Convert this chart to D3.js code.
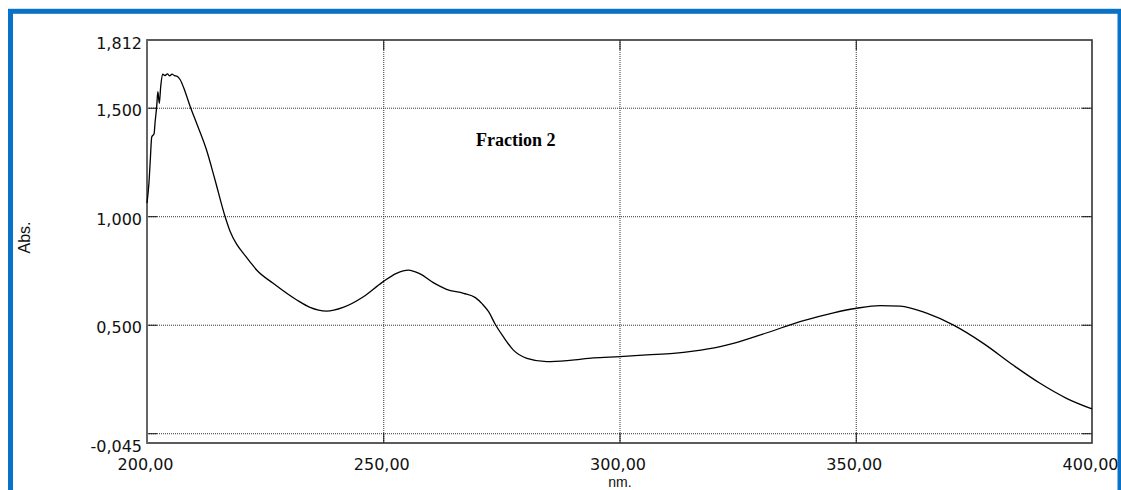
<!DOCTYPE html>
<html>
<head>
<meta charset="utf-8">
<script src="https://cdn.jsdelivr.net/npm/d3@7/dist/d3.min.js"></script>
<style>
  html, body { margin: 0; padding: 0; background: #ffffff; }
  svg { display: block; }
</style>
</head>
<body>
<script>
// UV absorption spectrum, wavelength (nm) vs absorbance
const wavelength = [
  200.0, 200.4, 200.7, 201.0, 201.5, 201.7, 202.05, 202.3, 202.6, 202.9,
  203.3, 203.8, 204.3, 204.8, 205.3, 205.8, 206.3, 207.0, 208.0, 209.1,
  210.5, 212.6, 214.4, 216.5, 217.6, 219.0, 220.4, 221.8, 223.2, 226.7,
  231.7, 234.5, 238.0, 241.5, 245.8, 249.7, 252.8, 255.3, 257.8, 260.6,
  263.4, 267.0, 269.5, 271.0, 272.3, 273.7, 275.4, 277.5, 280.4, 284.6,
  289.5, 294.5, 300.1, 305.8, 311.4, 315.6, 321.3, 324.1, 331.2, 338.2,
  345.3, 350.2, 355.1, 359.4, 365.0, 370.6, 377.0, 383.3, 389.0, 394.6,
  400.0
];
const absorbance = [
  1.060, 1.150, 1.260, 1.365, 1.380, 1.430, 1.505, 1.574, 1.520, 1.597,
  1.655, 1.648, 1.656, 1.647, 1.655, 1.648, 1.646, 1.630, 1.578, 1.508,
  1.428, 1.305, 1.167, 1.000, 0.930, 0.870, 0.829, 0.790, 0.752, 0.691,
  0.614, 0.580, 0.563, 0.580, 0.629, 0.694, 0.737, 0.752, 0.734, 0.694,
  0.663, 0.645, 0.625, 0.595, 0.560, 0.502, 0.445, 0.384, 0.345, 0.330,
  0.336, 0.347, 0.353, 0.361, 0.368, 0.378, 0.399, 0.414, 0.463, 0.514,
  0.555, 0.576, 0.588, 0.586, 0.553, 0.499, 0.414, 0.314, 0.230, 0.161,
  0.112
];

const yLabelValues = [1.812, 1.5, 1.0, 0.5, -0.045];
const yGridValues = [1.5, 1.0, 0.5, 0.0];
const xLabelValues = [200, 250, 300, 350, 400];
const xGridValues = [250, 300, 350];
const chartTitle = "Fraction 2";
const xTitle = "nm.";
const yTitle = "Abs.";

const W = 1121, H = 490;
const plot = { left: 147, top: 40, right: 1092, bottom: 443 };

const svg = d3.select("body").append("svg")
  .attr("width", W).attr("height", H);

// outer blue frame
svg.append("rect")
  .attr("x", 10.5).attr("y", 11.3)
  .attr("width", 1109.5).attr("height", 520)
  .attr("fill", "none")
  .attr("stroke", "#0a72c6")
  .attr("stroke-width", 5);

const x = d3.scaleLinear().domain([200, 400]).range([plot.left, plot.right]);
const y = d3.scaleLinear().domain([-0.045, 1.812]).range([plot.bottom, plot.top]);

const locale = d3.formatLocale({ decimal: ",", thousands: ".", grouping: [3], currency: ["", ""], minus: "-" });
const fmtY = locale.format(".3f");
const fmtX = locale.format(".2f");

const pw = plot.right - plot.left, ph = plot.bottom - plot.top;

// dotted grid lines
const gridY = svg.append("g")
  .attr("transform", `translate(${plot.left},0)`)
  .call(d3.axisRight(y).tickValues(yGridValues).tickSize(pw).tickFormat(""));
gridY.select(".domain").remove();
gridY.selectAll("line").attr("stroke", "#333").attr("stroke-dasharray", "1,1").attr("stroke-width", 1);

const gridX = svg.append("g")
  .attr("transform", `translate(0,${plot.top})`)
  .call(d3.axisBottom(x).tickValues(xGridValues).tickSize(ph).tickFormat(""));
gridX.select(".domain").remove();
gridX.selectAll("line").attr("stroke", "#333").attr("stroke-dasharray", "1,1").attr("stroke-width", 1);

// short inward tick marks on all four sides
function inwardTicks(axis, tx, ty) {
  const g = svg.append("g").attr("transform", `translate(${tx},${ty})`).call(axis);
  g.select(".domain").remove();
  g.selectAll("line").attr("stroke", "#111").attr("stroke-width", 1);
}
inwardTicks(d3.axisLeft(y).tickValues(yGridValues).tickSize(-10).tickFormat(""), plot.left, 0);
inwardTicks(d3.axisRight(y).tickValues(yGridValues).tickSize(-10).tickFormat(""), plot.right, 0);
inwardTicks(d3.axisBottom(x).tickValues(xGridValues).tickSize(-10).tickFormat(""), 0, plot.bottom);
inwardTicks(d3.axisTop(x).tickValues(xGridValues).tickSize(-10).tickFormat(""), 0, plot.top);

// tick labels
const yLab = svg.append("g")
  .attr("transform", `translate(${plot.left},0)`)
  .call(d3.axisLeft(y).tickValues(yLabelValues).tickSize(0).tickPadding(5).tickFormat(fmtY));
yLab.select(".domain").remove();
yLab.selectAll("text")
  .attr("font-family", "'DejaVu Sans', sans-serif")
  .attr("font-size", 16)
  .attr("fill", "#111")
  .attr("dy", "0.5em");

const xLab = svg.append("g")
  .attr("transform", `translate(-2,${plot.bottom})`)
  .call(d3.axisBottom(x).tickValues(xLabelValues).tickSize(0).tickPadding(16).tickFormat(fmtX));
xLab.select(".domain").remove();
xLab.selectAll("text")
  .attr("font-family", "'DejaVu Sans', sans-serif")
  .attr("font-size", 16)
  .attr("fill", "#111");

// plot frame
svg.append("rect")
  .attr("x", plot.left).attr("y", plot.top)
  .attr("width", pw).attr("height", ph)
  .attr("fill", "none")
  .attr("stroke", "#333")
  .attr("stroke-width", 1.6);
svg.append("line")
  .attr("x1", plot.left).attr("x2", plot.left)
  .attr("y1", plot.top).attr("y2", plot.bottom)
  .attr("stroke", "#666")
  .attr("stroke-width", 2);

// spectrum curve
const pts = wavelength.map((w, i) => [w, absorbance[i]]);
const line = d3.line()
  .x(d => x(d[0]))
  .y(d => y(d[1]))
  .curve(d3.curveMonotoneX);
svg.append("path")
  .datum(pts)
  .attr("d", line)
  .attr("fill", "none")
  .attr("stroke", "#000")
  .attr("stroke-width", 1.3);

// titles
svg.append("text")
  .attr("x", 476).attr("y", 146)
  .attr("font-family", "'Liberation Serif', 'Times New Roman', serif")
  .attr("font-weight", "bold")
  .attr("font-size", 18)
  .attr("fill", "#000")
  .text(chartTitle);

svg.append("text")
  .attr("transform", "translate(30,237.5) rotate(-90)")
  .attr("text-anchor", "middle")
  .attr("font-family", "'Liberation Sans', Arial, sans-serif")
  .attr("font-size", 16)
  .attr("fill", "#111")
  .text(yTitle);

svg.append("text")
  .attr("x", 620).attr("y", 487)
  .attr("text-anchor", "middle")
  .attr("font-family", "'Liberation Sans', Arial, sans-serif")
  .attr("font-size", 14)
  .attr("fill", "#111")
  .text(xTitle);
</script>
</body>
</html>
